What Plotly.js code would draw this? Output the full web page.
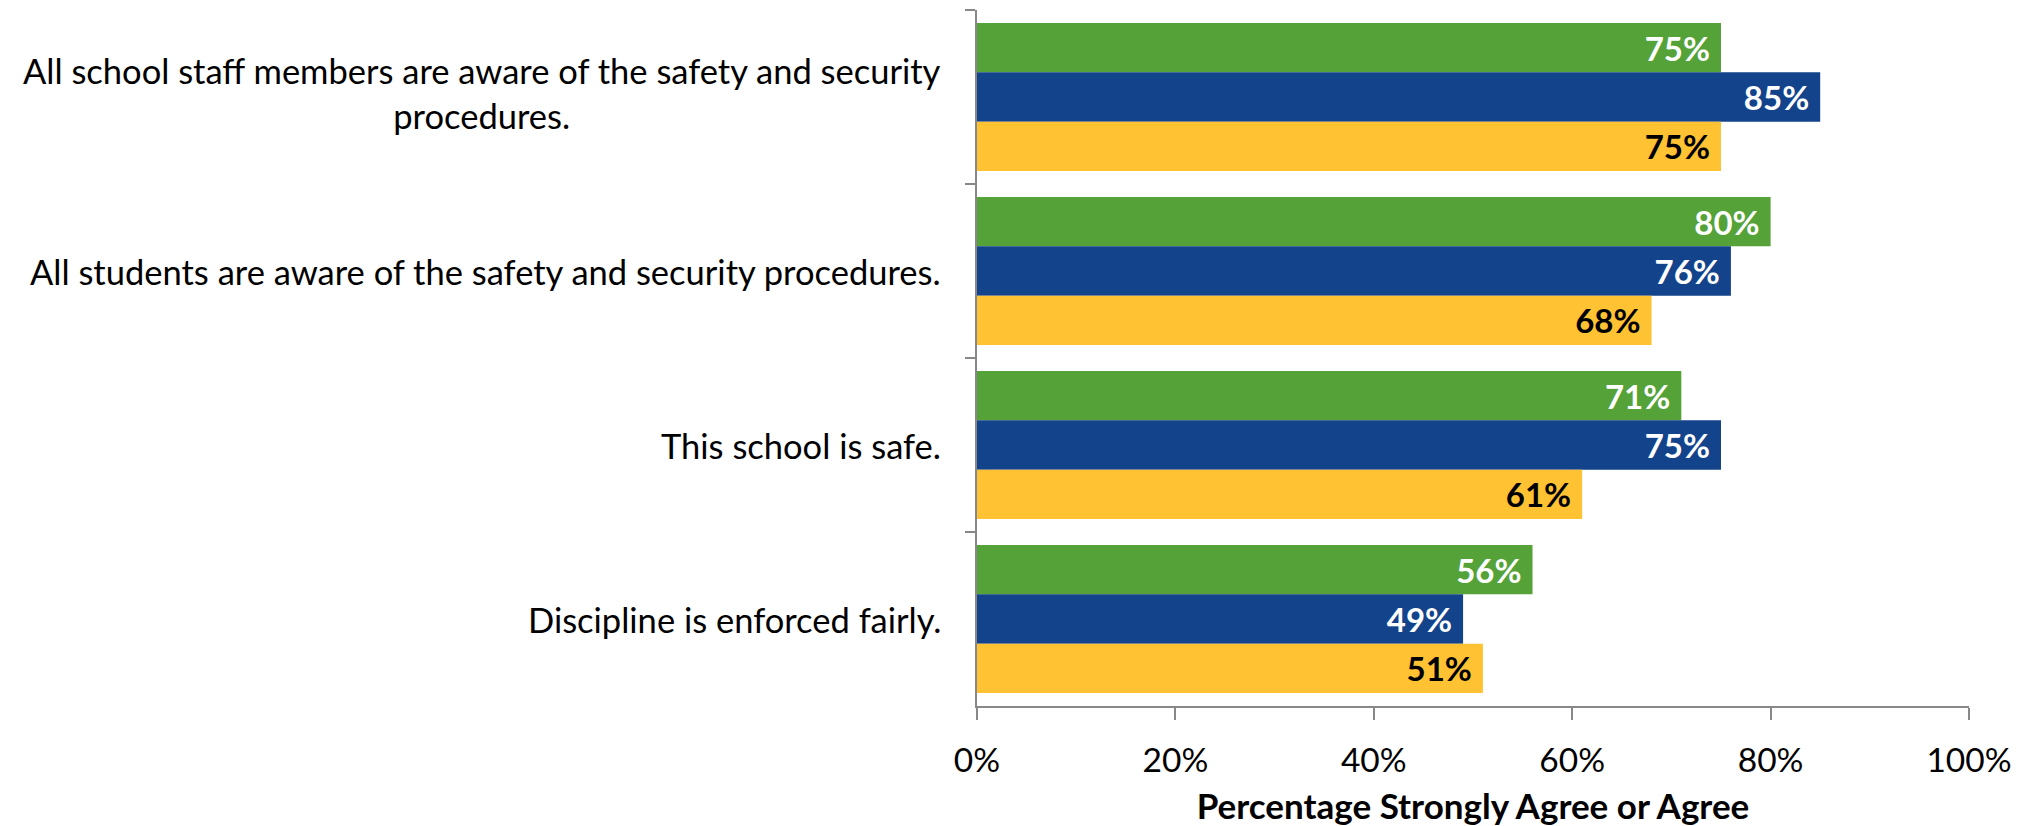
<!DOCTYPE html>
<html>
<head>
<meta charset="utf-8">
<script src="https://cdn.plot.ly/plotly-3.0.1.min.js"></script>
<style>
  html, body { margin: 0; padding: 0; background: #ffffff; }
  #chart { width: 2030px; height: 826px; }
</style>
</head>
<body>
<div id="chart"></div>
<script>
// Categories (top to bottom)
const categories = [
  "All school staff members are aware of the safety and security<br>procedures.",
  "All students are aware of the safety and security procedures.",
  "This school is safe.",
  "Discipline is enforced fairly."
];
// Series values (percent)
const seriesGreen  = [75, 80, 71, 56];
const seriesBlue   = [85, 76, 75, 49];
const seriesYellow = [75, 68, 61, 51];
const seriesNames  = ["Series 1", "Series 2", "Series 3"];
const xTickVals    = [0, 20, 40, 60, 80, 100];
const xTickText    = ["0%", "20%", "40%", "60%", "80%", "100%"];
const xTitle       = "Percentage Strongly Agree or Agree";

const FONT = "Lato, 'Open Sans', 'DejaVu Sans', sans-serif";

function barTrace(vals, name, color, textColor) {
  return {
    type: "bar",
    orientation: "h",
    name: name,
    y: categories,
    x: vals,
    marker: { color: color, line: { width: 0 } },
    text: vals.map(v => v + "%\u00a0"),
    textposition: "inside",
    insidetextanchor: "end",
    textangle: 0,
    constraintext: "none",
    textfont: { family: FONT, size: 33, color: textColor, weight: 700 },
    hoverinfo: "skip",
    showlegend: false
  };
}

const data = [
  barTrace(seriesGreen,  seriesNames[0], "#55A238", "#FFFFFF"),
  barTrace(seriesBlue,   seriesNames[1], "#13438A", "#FFFFFF"),
  barTrace(seriesYellow, seriesNames[2], "#FFC232", "#000000")
];

const annotations = categories.map(c => ({
  xref: "paper", yref: "y",
  x: 0, y: c,
  xanchor: "right", yanchor: "middle",
  xshift: -34,
  yshift: c.includes("<br>") ? 4 : 0,
  align: "center",
  text: c,
  showarrow: false,
  font: { family: FONT, size: 34.5, color: "#000000" }
}));

const layout = {
  width: 2030,
  height: 826,
  margin: { l: 977, r: 61, t: 10, b: 120, pad: 0 },
  paper_bgcolor: "#ffffff",
  plot_bgcolor: "#ffffff",
  barmode: "group",
  bargap: 0.15,
  bargroupgap: 0,
  font: { family: FONT, color: "#000000" },
  xaxis: {
    range: [0, 100],
    tickvals: xTickVals,
    ticktext: xTickText,
    ticks: "outside",
    ticklen: 12,
    tickwidth: 2,
    tickcolor: "#888888",
    showline: true,
    linecolor: "#888888",
    linewidth: 2,
    showgrid: false,
    zeroline: false,
    tickfont: { family: FONT, size: 33.5, color: "#000000" },
    ticklabelstandoff: 12,
    automargin: false,
    title: {
      text: xTitle,
      font: { family: FONT, size: 35, color: "#000000", weight: 700 },
      standoff: 16
    }
  },
  yaxis: {
    type: "category",
    autorange: "reversed",
    showticklabels: false,
    ticks: "outside",
    tickson: "boundaries",
    ticklen: 10,
    tickwidth: 2,
    tickcolor: "#888888",
    showline: true,
    linecolor: "#888888",
    linewidth: 2,
    showgrid: false,
    zeroline: false,
    automargin: false
  },
  annotations: annotations
};

Plotly.newPlot("chart", data, layout, { displayModeBar: false, staticPlot: true });
</script>
</body>
</html>
